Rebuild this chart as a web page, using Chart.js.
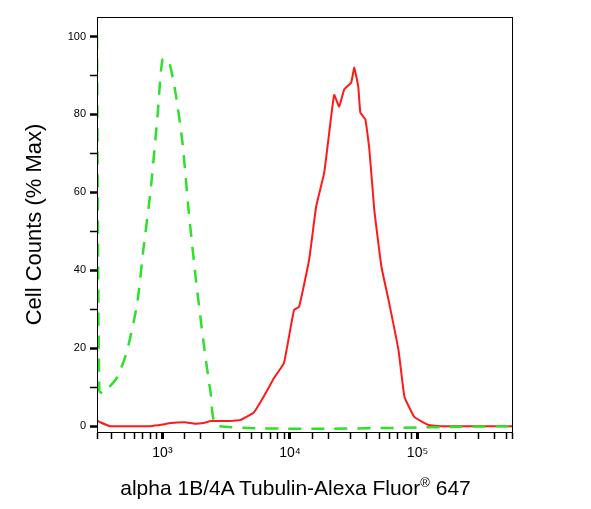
<!DOCTYPE html>
<html>
<head>
<meta charset="utf-8">
<script src="https://cdn.jsdelivr.net/npm/chart.js@4/dist/chart.umd.min.js"></script>
<style>
  body { margin: 0; background: #fff; }
  #wrap { position: relative; width: 591px; height: 509px; }
  #xtitle { position: absolute; left: 0; width: 591px; top: 475px; text-align: center;
            font-family: "Liberation Sans", Arial, sans-serif; font-size: 21px; color: #000; }
  #xtitle sup { font-size: 13px; }
</style>
</head>
<body>
<div id="wrap">
  <canvas id="chart" width="591" height="509"></canvas>
  <div id="xtitle">alpha 1B/4A Tubulin-Alexa Fluor<sup>®</sup> 647</div>
</div>
<script>
// Stained sample (red, solid)
const redX = [307, 325, 390, 560, 805, 1000, 1160, 1500, 1800, 2100, 2390, 3000, 3600, 4110, 5210, 6130, 7480, 8970,
    10750, 11780, 14130, 16030, 18530, 20300, 22200, 24300, 26600, 30200, 31900, 34300, 35600, 39000, 41900,
    45800, 52100, 59200, 70900, 79000, 94700, 122000, 150000, 550000];
const redY = [1.5, 1, 0, 0, 0, 0.4, 0.8, 1, 0.6, 0.8, 1.3, 1.3, 1.4, 1.6, 3.5, 7.2, 12.3, 16.2,
    29.8, 30.6, 42.7, 56.3, 65, 75.3, 85, 82, 86.4, 88.2, 92, 87.1, 80.5, 78.7, 71,
    55.5, 40.9, 32.4, 19.5, 7.5, 2.3, 0.3, 0, 0];

// Isotype control (green, dashed)
const greenX = [307, 320, 343, 443, 530, 635, 708, 805, 914, 1000, 1115, 1266, 1436, 1603, 1820, 2104, 2390, 2710, 550000];
const greenY = [100, 9, 8.5, 12.6, 19.5, 31.6, 45.2, 60, 79.4, 94, 94, 85.6, 72.8, 55.5, 38.3, 21.3, 8.5, 0, 0];

const yTicks = [0, 10, 20, 30, 40, 50, 60, 70, 80, 90, 100];
const yLabels = [0, 20, 40, 60, 80, 100];
const xLabels = { 1000: '10³', 10000: '10⁴', 100000: '10⁵' };

const font = "'Liberation Sans', Arial, sans-serif";

const boxPlugin = {
    id: 'box',
    afterDraw(chart) {
        const a = chart.chartArea, ctx = chart.ctx;
        ctx.save();
        ctx.strokeStyle = '#000';
        ctx.lineWidth = 1;
        ctx.strokeRect(a.left + 0.5, a.top + 0.5, a.right - a.left, a.bottom - a.top);
        ctx.restore();
    }
};

new Chart(document.getElementById('chart'), {
    type: 'line',
    data: {
        datasets: [
            {
                data: greenX.map((x, i) => ({ x: x, y: greenY[i] })),
                borderColor: '#2ee02a',
                borderWidth: 2.5,
                borderDash: [13, 10],
                pointRadius: 0,
                tension: 0.2
            },
            {
                data: redX.map((x, i) => ({ x: x, y: redY[i] })),
                borderColor: '#ff1a1a',
                borderWidth: 2,
                pointRadius: 0,
                tension: 0.1
            }
        ]
    },
    options: {
        responsive: false,
        animation: false,
        layout: { padding: { top: 17, right: 79, left: 22, bottom: 0 } },
        plugins: { legend: { display: false }, tooltip: { enabled: false } },
        scales: {
            x: {
                type: 'logarithmic',
                min: 307,
                max: 550000,
                afterFit(scale) { scale.height = 77; },
                grid: {
                    drawOnChartArea: false,
                    tickLength: 7,
                    color: '#000',
                    tickWidth: ctx => (xLabels[ctx.tick && ctx.tick.value] ? 3 : 1.5)
                },
                border: { color: '#000' },
                ticks: {
                    autoSkip: false,
                    maxRotation: 0,
                    padding: 6,
                    color: '#000',
                    font: { family: font, size: 14 },
                    callback: v => xLabels[v] || ''
                }
            },
            y: {
                min: -1.5,
                max: 105,
                afterFit(scale) { scale.width = 75; },
                afterBuildTicks(scale) { scale.ticks = yTicks.map(v => ({ value: v })); },
                grid: {
                    drawOnChartArea: false,
                    tickLength: 7,
                    color: '#000',
                    tickWidth: ctx => (ctx.tick && ctx.tick.value % 20 === 0 ? 2.5 : 1.5)
                },
                border: { color: '#000' },
                ticks: {
                    autoSkip: false,
                    padding: 4,
                    color: '#000',
                    font: { family: font, size: 11 },
                    callback: v => (yLabels.includes(v) ? String(v) : '')
                },
                title: {
                    display: true,
                    text: 'Cell Counts (% Max)',
                    color: '#000',
                    font: { family: font, size: 22 },
                    padding: { top: 0, bottom: 8 }
                }
            }
        }
    },
    plugins: [boxPlugin]
});
</script>
</body>
</html>
